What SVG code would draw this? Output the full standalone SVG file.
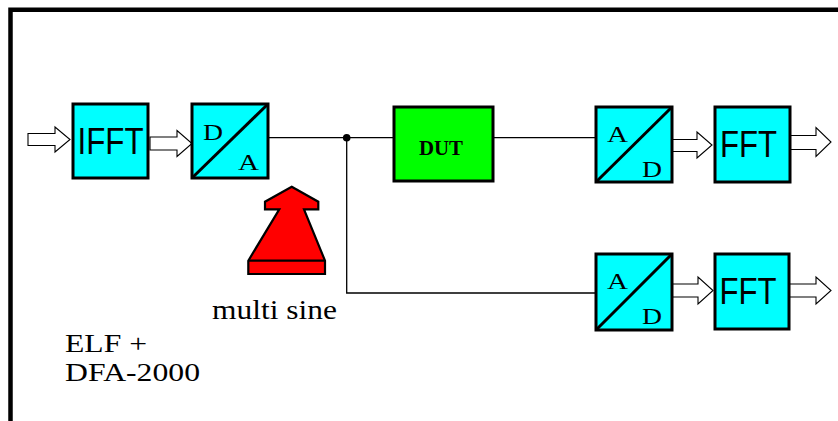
<svg xmlns="http://www.w3.org/2000/svg" width="838" height="421" viewBox="0 0 838 421">
  <style>
    .frame { fill: none; stroke: #000; stroke-width: 4.5; }
    .blk { stroke: #000; stroke-width: 3; }
    .cyan { fill: #00ffff; }
    .green { fill: #00ff00; }
    .diag { stroke: #000; stroke-width: 3; fill: none; }
    .wire { stroke: #000; stroke-width: 1.3; fill: none; }
    .hollow { fill: #fff; stroke: #000; stroke-width: 1.1; stroke-linejoin: miter; }
    .sans { font-family: "Liberation Sans", Arial, sans-serif; fill: #000; }
    .serif { font-family: "Liberation Serif", "Times New Roman", serif; fill: #000; }
    .conv { font-size: 23px; }
  </style>

  <rect width="838" height="421" fill="#fff"/>
  <!-- outer frame (open at right and bottom edges) -->
  <path class="frame" d="M10.5,421 V9.8 H838"/>

  <g id="connectors">
    <!-- hollow data arrows -->
    <polygon class="hollow" points="28,133.5 55,133.5 55,127 70,139.5 55,152 55,145.5 28,145.5"/>
    <polygon class="hollow" points="150,137 177,137 177,130.5 192,143.5 177,156.5 177,150 150,150"/>
    <polygon class="hollow" points="672,139.5 697,139.5 697,132 712,145 697,158 697,151.5 672,151.5"/>
    <polygon class="hollow" points="790,135.5 816,135.5 816,127.5 831,142 816,156.5 816,149.5 790,149.5"/>
    <polygon class="hollow" points="672,284 698,284 698,277 713,290.5 698,304 698,297 672,297"/>
    <polygon class="hollow" points="789,284 816,284 816,277 831,290.5 816,304 816,297 789,297"/>
    <!-- signal wires -->
    <path class="wire" d="M268,137.7 H394"/>
    <path class="wire" d="M493,137.7 H596"/>
    <path class="wire" d="M346.7,137.7 V293 H596"/>
    <circle cx="346.7" cy="137.7" r="3.8" fill="#000"/>
  </g>

  <g id="ifft">
    <rect class="blk cyan" x="73" y="104" width="75" height="74"/>
    <text class="sans" x="110.5" y="154" font-size="36" text-anchor="middle" textLength="66" lengthAdjust="spacingAndGlyphs">IFFT</text>
  </g>

  <g id="dac">
    <rect class="blk cyan" x="192" y="104" width="76" height="74"/>
    <line class="diag" x1="192" y1="178" x2="268" y2="104"/>
    <text class="serif conv" x="203" y="140" textLength="20" lengthAdjust="spacingAndGlyphs">D</text>
    <text class="serif conv" x="238" y="170" textLength="21" lengthAdjust="spacingAndGlyphs">A</text>
  </g>

  <g id="dut">
    <rect class="blk green" x="394" y="107" width="99" height="74"/>
    <text class="serif" x="441" y="155" font-size="20" font-weight="bold" text-anchor="middle" textLength="44" lengthAdjust="spacingAndGlyphs">DUT</text>
  </g>

  <g id="adc1">
    <rect class="blk cyan" x="596" y="107" width="76" height="75"/>
    <line class="diag" x1="596" y1="182" x2="672" y2="107"/>
    <text class="serif conv" x="607" y="142" textLength="21" lengthAdjust="spacingAndGlyphs">A</text>
    <text class="serif conv" x="642" y="177" textLength="20" lengthAdjust="spacingAndGlyphs">D</text>
  </g>

  <g id="fft1">
    <rect class="blk cyan" x="715" y="107" width="75" height="75"/>
    <text class="sans" x="748.5" y="157" font-size="36" text-anchor="middle" textLength="57" lengthAdjust="spacingAndGlyphs">FFT</text>
  </g>

  <g id="adc2">
    <rect class="blk cyan" x="596" y="254" width="76" height="76"/>
    <line class="diag" x1="596" y1="330" x2="672" y2="254"/>
    <text class="serif conv" x="607" y="289" textLength="21" lengthAdjust="spacingAndGlyphs">A</text>
    <text class="serif conv" x="642" y="324" textLength="20" lengthAdjust="spacingAndGlyphs">D</text>
  </g>

  <g id="fft2">
    <rect class="blk cyan" x="715" y="254" width="74" height="75"/>
    <text class="sans" x="748" y="304" font-size="36" text-anchor="middle" textLength="57" lengthAdjust="spacingAndGlyphs">FFT</text>
  </g>

  <g id="multisine">
    <path d="M291.7,186.7 L318.3,201.7 V209.3 H304 L325,260.7 V274 H248.3 V260.7 L279.3,209.3 H265 V201.7 Z" fill="#ff0000" stroke="#000" stroke-width="2.2" stroke-linejoin="miter"/>
    <line x1="248.3" y1="260.7" x2="325" y2="260.7" stroke="#000" stroke-width="2.2"/>
    <text class="serif" x="212" y="319" font-size="27" textLength="125" lengthAdjust="spacingAndGlyphs">multi sine</text>
  </g>

  <g id="caption">
    <text class="serif" x="65" y="352" font-size="25" textLength="82" lengthAdjust="spacingAndGlyphs">ELF +</text>
    <text class="serif" x="65" y="381" font-size="25" textLength="135" lengthAdjust="spacingAndGlyphs">DFA-2000</text>
  </g>
</svg>
